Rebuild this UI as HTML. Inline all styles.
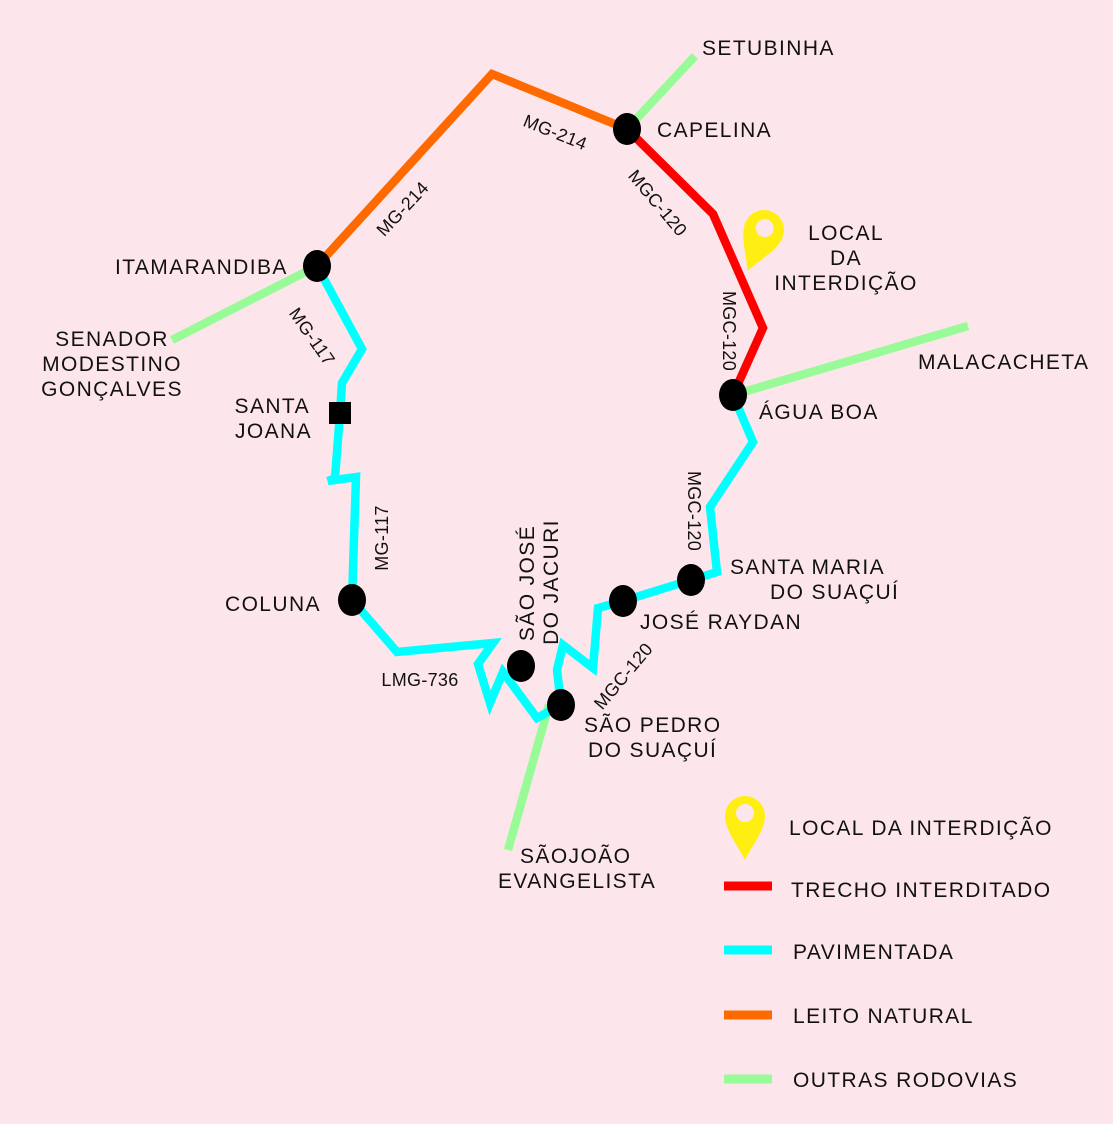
<!DOCTYPE html>
<html><head><meta charset="utf-8"><style>
html,body{margin:0;padding:0;background:#fde6eb;}
svg{display:block}
text{font-family:"Liberation Sans",sans-serif;fill:#111;font-size:21px;letter-spacing:1.4px}
.s{font-size:18px;letter-spacing:0.3px}
</style></head><body>
<svg width="1113" height="1124" viewBox="0 0 1113 1124">
<rect width="1113" height="1124" fill="#fde6eb"/>
<g fill="none" stroke-linejoin="miter" stroke-width="8.5">
<polyline stroke="#98fb98" points="695,56 627,129"/>
<polyline stroke="#98fb98" points="317,266 172,340"/>
<polyline stroke="#98fb98" points="733,395 968,326"/>
<polyline stroke="#98fb98" points="549,705 508,850"/>
<polyline stroke="#ff6a00" points="317,266 492,74 627,129"/>
<polyline stroke="#ff0000" points="627,129 713,214 763,328 733,395"/>
<polyline stroke="#00ffff" points="317,266 362,349 342,383 340,413 335,478 328,481 356,477 352,600 397,652 493,643 478,664 490,703 503,672 537,718 561,705 557,670 563,645 593,668 598,608 623,601 691,580 717,572 710,507 753,442 733,395"/>
</g>
<g fill="#000">
<ellipse cx="317" cy="266" rx="14" ry="16"/>
<ellipse cx="627" cy="129" rx="14" ry="16"/>
<ellipse cx="733" cy="395" rx="14" ry="16"/>
<ellipse cx="352" cy="600" rx="14" ry="16"/>
<ellipse cx="521" cy="666" rx="14" ry="16"/>
<ellipse cx="561" cy="705" rx="14" ry="16"/>
<ellipse cx="623" cy="601" rx="14" ry="16"/>
<ellipse cx="691" cy="580" rx="14" ry="16"/>
<rect x="329" y="402" width="22" height="22"/>
</g>
<g transform="translate(764,230) rotate(22)">
<path d="M0,44 C-8,28 -20,14 -20,0 A20,20 0 1 1 20,0 C20,14 8,28 0,44 Z" fill="#ffee11"/>
<circle cx="0" cy="-2" r="9" fill="#fde6eb"/>
</g>
<g transform="translate(745,816)">
<path d="M0,44 C-8,28 -20,14 -20,0 A20,20 0 1 1 20,0 C20,14 8,28 0,44 Z" fill="#ffee11"/>
<circle cx="0" cy="-3" r="9" fill="#fde6eb"/>
</g>
<g stroke-width="9">
<line x1="724" y1="886" x2="772" y2="886" stroke="#ff0000"/>
<line x1="724" y1="950" x2="772" y2="950" stroke="#00ffff"/>
<line x1="724" y1="1015" x2="772" y2="1015" stroke="#ff6a00"/>
<line x1="724" y1="1079" x2="772" y2="1079" stroke="#98fb98"/>
</g>
<text x="702" y="55">SETUBINHA</text>
<text x="657" y="137">CAPELINA</text>
<text x="846" y="240" text-anchor="middle">LOCAL</text>
<text x="846" y="265" text-anchor="middle">DA</text>
<text x="846" y="290" text-anchor="middle">INTERDIÇÃO</text>
<text x="918" y="369">MALACACHETA</text>
<text x="759" y="419">ÁGUA BOA</text>
<text x="115" y="274">ITAMARANDIBA</text>
<text x="112" y="346" text-anchor="middle">SENADOR</text>
<text x="112" y="371" text-anchor="middle">MODESTINO</text>
<text x="112" y="396" text-anchor="middle">GONÇALVES</text>
<text x="310" y="413" text-anchor="end">SANTA</text>
<text x="312" y="438" text-anchor="end">JOANA</text>
<text x="225" y="611">COLUNA</text>
<text x="730" y="574">SANTA MARIA</text>
<text x="770" y="599">DO SUAÇUÍ</text>
<text x="640" y="629">JOSÉ RAYDAN</text>
<text x="584" y="732">SÃO PEDRO</text>
<text x="588" y="757">DO SUAÇUÍ</text>
<text x="520" y="863">SÃOJOÃO</text>
<text x="498" y="888">EVANGELISTA</text>
<text x="534" y="583" text-anchor="middle" transform="rotate(-90 534 583)">SÃO JOSÉ</text>
<text x="558" y="582" text-anchor="middle" transform="rotate(-90 558 582)">DO JACURI</text>
<text x="789" y="835">LOCAL DA INTERDIÇÃO</text>
<text x="791" y="897">TRECHO INTERDITADO</text>
<text x="793" y="959">PAVIMENTADA</text>
<text x="793" y="1023">LEITO NATURAL</text>
<text x="793" y="1087">OUTRAS RODOVIAS</text>
<text class="s" x="0" y="0" text-anchor="middle" transform="translate(407,213) rotate(-47)">MG-214</text>
<text class="s" x="0" y="0" text-anchor="middle" transform="translate(553,138) rotate(22)">MG-214</text>
<text class="s" x="0" y="0" text-anchor="middle" transform="translate(653,207) rotate(50)">MGC-120</text>
<text class="s" x="0" y="0" text-anchor="middle" transform="translate(723,331) rotate(90)">MGC-120</text>
<text class="s" x="0" y="0" text-anchor="middle" transform="translate(307,340) rotate(55)">MG-117</text>
<text class="s" x="0" y="0" text-anchor="middle" transform="translate(388,538) rotate(-90)">MG-117</text>
<text class="s" x="0" y="0" text-anchor="middle" transform="translate(688,511) rotate(90)">MGC-120</text>
<text class="s" x="420" y="686" text-anchor="middle">LMG-736</text>
<text class="s" x="0" y="0" text-anchor="middle" transform="translate(628,680) rotate(-50)">MGC-120</text>
</svg>
</body></html>
